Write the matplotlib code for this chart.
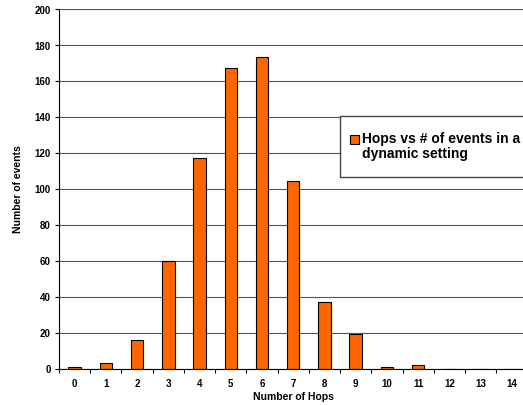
import matplotlib
matplotlib.use("Agg")
import matplotlib.pyplot as plt
from matplotlib.patches import Rectangle
import numpy as np

plt.rcParams['font.family'] = ['Liberation Sans', 'DejaVu Sans']

hops = [0, 1, 2, 3, 4, 5, 6, 7, 8, 9, 10, 11, 12, 13, 14]
events = [1, 3, 16, 60, 117, 167, 173, 104, 37, 19, 1, 2, 0, 0, 0]
y_ticks = [0, 20, 40, 60, 80, 100, 120, 140, 160, 180, 200]
series_label = "Hops vs # of events in a\ndynamic setting"

W, H = 523, 406
fig = plt.figure(figsize=(W / 100, H / 100), dpi=100)
ax = fig.add_axes([59 / W, 1 - 369.5 / H, 468.5 / W, 360 / H])

x = np.arange(len(hops))
ax.bar(x, events, width=0.4, color='#FF6600', edgecolor='black', linewidth=0.8, zorder=3)

ax.set_xlim(-0.5, len(hops) - 0.5)
ax.set_ylim(0, 200)
ax.set_yticks(y_ticks)
ax.set_xticks(x)
ax.set_xticklabels([str(h) for h in hops])
ax.set_xticks(np.arange(-0.5, len(hops), 1.0), minor=True)

ax.tick_params(axis='x', which='major', length=0, pad=7, labelsize=7)
ax.tick_params(axis='x', which='minor', length=3, width=0.8, direction='out')
ax.tick_params(axis='y', length=3, width=0.8, pad=3, labelsize=7)
for lab in ax.get_xticklabels() + ax.get_yticklabels():
    lab.set_fontweight('bold')

ax.yaxis.grid(True, color='#555555', linewidth=0.8, zorder=0)
ax.set_axisbelow(True)
for s in ('top', 'right'):
    ax.spines[s].set_visible(False)
for s in ('left', 'bottom'):
    ax.spines[s].set_linewidth(0.8)
    ax.spines[s].set_zorder(4)

ax.set_xlabel("Number of Hops", fontsize=7.5, fontweight='bold', labelpad=2)
ax.set_ylabel("Number of events", fontsize=7.5, fontweight='bold', labelpad=8)

# legend box drawn on the figure
fig.patches.append(Rectangle((340 / W, 1 - 177.7 / H), 200 / W, 61 / H,
                             transform=fig.transFigure, facecolor='white',
                             edgecolor='#444444', linewidth=1.0, zorder=10))
fig.patches.append(Rectangle((350 / W, 1 - 145 / H), 9 / W, 9 / H,
                             transform=fig.transFigure, facecolor='#FF6600',
                             edgecolor='black', linewidth=0.8, zorder=11))
fig.text(362 / W, 1 - 132 / H, series_label, fontsize=10, fontweight='bold',
         va='top', ha='left', linespacing=1.1, zorder=12,
         transform=fig.transFigure)

fig.savefig("out.png", dpi=100)
